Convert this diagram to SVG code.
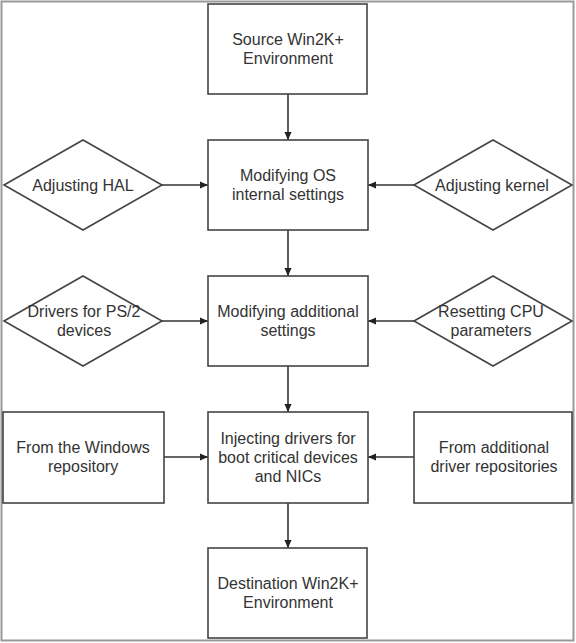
<svg xmlns="http://www.w3.org/2000/svg" width="576" height="643" viewBox="0 0 576 643">
<defs>
<marker id="ah" viewBox="0 0 10 10" refX="10" refY="5" markerWidth="8" markerHeight="8" markerUnits="userSpaceOnUse" orient="auto">
<path d="M0,0.5 L10,5 L0,9.5 z" fill="#222"/>
</marker>
<style>
.n{fill:#fff;stroke:#444;stroke-width:1.6}
.t{font-family:"Liberation Sans",Arial,sans-serif;font-size:16px;fill:#333;text-anchor:middle}
.c{stroke:#333;stroke-width:1.6;fill:none;marker-end:url(#ah)}
</style>
</defs>
<rect x="0" y="0" width="576" height="643" fill="#fff"/>
<rect x="1.5" y="1.5" width="572" height="639" fill="none" stroke="#999" stroke-width="2"/>
<g id="connectors">
<line class="c" x1="288" y1="94" x2="288" y2="140"/>
<line class="c" x1="288" y1="230" x2="288" y2="276"/>
<line class="c" x1="288" y1="366" x2="288" y2="412"/>
<line class="c" x1="288" y1="503" x2="288" y2="548"/>
<line class="c" x1="162" y1="185" x2="208" y2="185"/>
<line class="c" x1="414" y1="185" x2="368" y2="185"/>
<line class="c" x1="162" y1="321" x2="208" y2="321"/>
<line class="c" x1="414" y1="321" x2="368" y2="321"/>
<line class="c" x1="164" y1="457" x2="208" y2="457"/>
<line class="c" x1="414" y1="457" x2="368" y2="457"/>
</g>
<g id="source">
<rect class="n" x="208" y="4" width="159" height="90"/>
<text class="t" x="288" y="45.2">Source Win2K+</text>
<text class="t" x="288" y="64.2">Environment</text>
</g>
<g id="modify-os">
<rect class="n" x="208" y="140" width="160" height="90"/>
<text class="t" x="288" y="181.2">Modifying OS</text>
<text class="t" x="288" y="200.2">internal settings</text>
</g>
<g id="adjust-hal">
<polygon class="n" points="4,185 83,140 162,185 83,230"/>
<text class="t" x="83" y="190.7">Adjusting HAL</text>
</g>
<g id="adjust-kernel">
<polygon class="n" points="414,185 493,140 572,185 493,230"/>
<text class="t" x="492" y="190.7">Adjusting kernel</text>
</g>
<g id="modify-additional">
<rect class="n" x="208" y="276" width="160" height="90"/>
<text class="t" x="288" y="317.2">Modifying additional</text>
<text class="t" x="288" y="336.2">settings</text>
</g>
<g id="ps2">
<polygon class="n" points="4,321 83,276 162,321 83,366"/>
<text class="t" x="84" y="317.2">Drivers for PS/2</text>
<text class="t" x="84" y="336.2">devices</text>
</g>
<g id="cpu">
<polygon class="n" points="414,321 493,276 572,321 493,366"/>
<text class="t" x="491" y="317.2">Resetting CPU</text>
<text class="t" x="491" y="336.2">parameters</text>
</g>
<g id="inject">
<rect class="n" x="208" y="412" width="160" height="91"/>
<text class="t" x="288" y="443.7">Injecting drivers for</text>
<text class="t" x="288" y="462.7">boot critical devices</text>
<text class="t" x="288" y="481.7">and NICs</text>
</g>
<g id="windows-repo">
<rect class="n" x="3" y="412" width="161" height="91"/>
<text class="t" x="83" y="453.2">From the Windows</text>
<text class="t" x="83" y="472.2">repository</text>
</g>
<g id="additional-repo">
<rect class="n" x="414" y="412" width="158" height="91"/>
<text class="t" x="494" y="453.2">From additional</text>
<text class="t" x="494" y="472.2">driver repositories</text>
</g>
<g id="destination">
<rect class="n" x="208" y="548" width="159" height="90"/>
<text class="t" x="288" y="588.7">Destination Win2K+</text>
<text class="t" x="288" y="607.7">Environment</text>
</g>
</svg>
